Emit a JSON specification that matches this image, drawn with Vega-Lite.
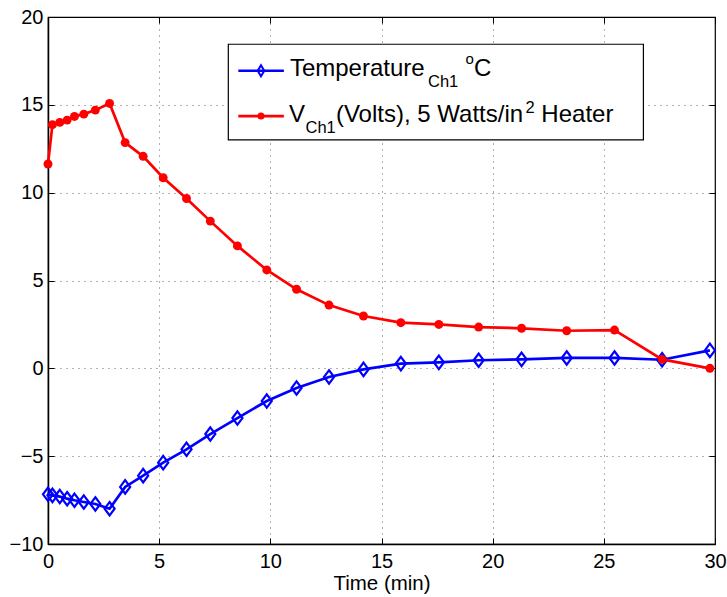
{
  "$schema": "https://vega.github.io/schema/vega-lite/v6.json",
  "width": 667,
  "height": 527,
  "autosize": {"type": "none"},
  "padding": {"left": 48, "top": 17, "right": 12, "bottom": 53},
  "background": "white",
  "config": {
    "font": "Liberation Sans",
    "view": {"stroke": "#000", "strokeWidth": 1.2},
    "axis": {
      "labelFont": "Liberation Sans", "labelFontSize": 20, "labelColor": "#000", "labelFlush": false,
      "titleFont": "Liberation Sans", "titleFontSize": 20.5, "titleFontWeight": "normal", "titleColor": "#000",
      "domainColor": "#000", "domainWidth": 1.5,
      "tickColor": "#000", "tickSize": -6, "tickWidth": 1,
      "gridColor": "#000", "gridOpacity": 0.6, "gridDash": [1, 5], "gridWidth": 1
    }
  },
  "data": {
    "values": [
      {"t": 0, "temp": -7.17, "volt": 11.63},
      {"t": 0.2, "temp": -7.23, "volt": 13.87},
      {"t": 0.53, "temp": -7.3, "volt": 14.0},
      {"t": 0.86, "temp": -7.42, "volt": 14.13},
      {"t": 1.19, "temp": -7.51, "volt": 14.34},
      {"t": 1.61, "temp": -7.61, "volt": 14.47},
      {"t": 2.13, "temp": -7.72, "volt": 14.7},
      {"t": 2.77, "temp": -7.99, "volt": 15.08},
      {"t": 3.47, "temp": -6.75, "volt": 12.85},
      {"t": 4.28, "temp": -6.11, "volt": 12.07},
      {"t": 5.18, "temp": -5.37, "volt": 10.85},
      {"t": 6.23, "temp": -4.61, "volt": 9.67},
      {"t": 7.3, "temp": -3.74, "volt": 8.38},
      {"t": 8.52, "temp": -2.83, "volt": 6.97},
      {"t": 9.84, "temp": -1.86, "volt": 5.6},
      {"t": 11.18, "temp": -1.12, "volt": 4.5},
      {"t": 12.64, "temp": -0.49, "volt": 3.6},
      {"t": 14.19, "temp": -0.06, "volt": 2.98},
      {"t": 15.87, "temp": 0.27, "volt": 2.6},
      {"t": 17.58, "temp": 0.34, "volt": 2.5},
      {"t": 19.37, "temp": 0.46, "volt": 2.35},
      {"t": 21.3, "temp": 0.51, "volt": 2.28},
      {"t": 23.33, "temp": 0.59, "volt": 2.14},
      {"t": 25.48, "temp": 0.59, "volt": 2.18},
      {"t": 27.62, "temp": 0.49, "volt": 0.51},
      {"t": 29.77, "temp": 1.02, "volt": 0.0}
    ]
  },
  "layer": [
    {
      "mark": {"type": "line", "color": "#0000FF", "strokeWidth": 2.7},
      "encoding": {
        "x": {"field": "t", "type": "quantitative", "scale": {"domain": [0, 30], "nice": false},
              "axis": {"values": [0, 5, 10, 15, 20, 25, 30], "title": "Time (min)", "labelPadding": 13, "titlePadding": 2}},
        "y": {"field": "temp", "type": "quantitative", "scale": {"domain": [-10, 20], "nice": false},
              "axis": {"values": [-10, -5, 0, 5, 10, 15, 20], "title": null, "labelPadding": 11}}
      }
    },
    {
      "mark": {"type": "point", "shape": "M0,-1L0.75,0L0,1L-0.75,0Z", "filled": false, "color": "#0000FF", "strokeWidth": 2.2, "size": 180, "opacity": 1},
      "encoding": {
        "x": {"field": "t", "type": "quantitative", "axis": null},
        "y": {"field": "temp", "type": "quantitative", "axis": null}
      }
    },
    {
      "mark": {"type": "line", "color": "#FF0000", "strokeWidth": 2.7},
      "encoding": {
        "x": {"field": "t", "type": "quantitative", "axis": null},
        "y": {"field": "volt", "type": "quantitative", "axis": null}
      }
    },
    {
      "mark": {"type": "circle", "color": "#FF0000", "size": 80, "opacity": 1},
      "encoding": {
        "x": {"field": "t", "type": "quantitative", "axis": null},
        "y": {"field": "volt", "type": "quantitative", "axis": null}
      }
    },
    {
      "data": {"values": [{}]},
      "mark": {"type": "rect", "fill": "white", "stroke": "#000", "strokeWidth": 1.2},
      "encoding": {
        "x": {"datum": 8.11, "type": "quantitative",
              "axis": {"orient": "top", "labels": false, "domain": false, "grid": false, "title": null, "values": [0, 5, 10, 15, 20, 25, 30]}},
        "x2": {"datum": 26.78},
        "y": {"datum": 18.45, "type": "quantitative",
              "axis": {"orient": "right", "labels": false, "domain": false, "grid": false, "title": null, "values": [-10, -5, 0, 5, 10, 15, 20]}},
        "y2": {"datum": 13.0}
      }
    },
    {
      "data": {"values": [{}]},
      "mark": {"type": "rule", "color": "#0000FF", "strokeWidth": 2.7},
      "encoding": {
        "x": {"datum": 8.56, "type": "quantitative", "axis": null},
        "x2": {"datum": 10.61},
        "y": {"datum": 16.94, "type": "quantitative", "axis": null}
      }
    },
    {
      "data": {"values": [{}]},
      "mark": {"type": "point", "shape": "M0,-1L0.6,0L0,1L-0.6,0Z", "filled": false, "color": "#0000FF", "strokeWidth": 2, "size": 120, "opacity": 1},
      "encoding": {
        "x": {"datum": 9.58, "type": "quantitative", "axis": null},
        "y": {"datum": 16.94, "type": "quantitative", "axis": null}
      }
    },
    {
      "data": {"values": [{}]},
      "mark": {"type": "rule", "color": "#FF0000", "strokeWidth": 2.7},
      "encoding": {
        "x": {"datum": 8.56, "type": "quantitative", "axis": null},
        "x2": {"datum": 10.61},
        "y": {"datum": 14.36, "type": "quantitative", "axis": null}
      }
    },
    {
      "data": {"values": [{}]},
      "mark": {"type": "circle", "color": "#FF0000", "size": 50, "opacity": 1},
      "encoding": {
        "x": {"datum": 9.58, "type": "quantitative", "axis": null},
        "y": {"datum": 14.36, "type": "quantitative", "axis": null}
      }
    },
    {
      "data": {"values": [{"label": "Temperature"}]},
      "mark": {"type": "text", "align": "left", "baseline": "alphabetic", "fontSize": 24, "color": "#000"},
      "encoding": {"text": {"field": "label"}, "x": {"datum": 10.88, "type": "quantitative", "axis": null}, "y": {"datum": 16.66, "type": "quantitative", "axis": null}}
    },
    {
      "data": {"values": [{"label": "Ch1"}]},
      "mark": {"type": "text", "align": "left", "baseline": "alphabetic", "fontSize": 16.5, "color": "#000"},
      "encoding": {"text": {"field": "label"}, "x": {"datum": 17.09, "type": "quantitative", "axis": null}, "y": {"datum": 16.0, "type": "quantitative", "axis": null}}
    },
    {
      "data": {"values": [{"label": "o"}]},
      "mark": {"type": "text", "align": "left", "baseline": "alphabetic", "fontSize": 15, "color": "#000"},
      "encoding": {"text": {"field": "label"}, "x": {"datum": 18.78, "type": "quantitative", "axis": null}, "y": {"datum": 17.31, "type": "quantitative", "axis": null}}
    },
    {
      "data": {"values": [{"label": "C"}]},
      "mark": {"type": "text", "align": "left", "baseline": "alphabetic", "fontSize": 24, "color": "#000"},
      "encoding": {"text": {"field": "label"}, "x": {"datum": 19.16, "type": "quantitative", "axis": null}, "y": {"datum": 16.66, "type": "quantitative", "axis": null}}
    },
    {
      "data": {"values": [{"label": "V"}]},
      "mark": {"type": "text", "align": "left", "baseline": "alphabetic", "fontSize": 24, "color": "#000"},
      "encoding": {"text": {"field": "label"}, "x": {"datum": 10.84, "type": "quantitative", "axis": null}, "y": {"datum": 14.04, "type": "quantitative", "axis": null}}
    },
    {
      "data": {"values": [{"label": "Ch1"}]},
      "mark": {"type": "text", "align": "left", "baseline": "alphabetic", "fontSize": 16.5, "color": "#000"},
      "encoding": {"text": {"field": "label"}, "x": {"datum": 11.58, "type": "quantitative", "axis": null}, "y": {"datum": 13.38, "type": "quantitative", "axis": null}}
    },
    {
      "data": {"values": [{"label": "(Volts), 5 Watts/in"}]},
      "mark": {"type": "text", "align": "left", "baseline": "alphabetic", "fontSize": 24, "color": "#000"},
      "encoding": {"text": {"field": "label"}, "x": {"datum": 12.95, "type": "quantitative", "axis": null}, "y": {"datum": 14.04, "type": "quantitative", "axis": null}}
    },
    {
      "data": {"values": [{"label": "2"}]},
      "mark": {"type": "text", "align": "left", "baseline": "alphabetic", "fontSize": 16.5, "color": "#000"},
      "encoding": {"text": {"field": "label"}, "x": {"datum": 21.48, "type": "quantitative", "axis": null}, "y": {"datum": 14.52, "type": "quantitative", "axis": null}}
    },
    {
      "data": {"values": [{"label": "Heater"}]},
      "mark": {"type": "text", "align": "left", "baseline": "alphabetic", "fontSize": 24, "color": "#000"},
      "encoding": {"text": {"field": "label"}, "x": {"datum": 22.19, "type": "quantitative", "axis": null}, "y": {"datum": 14.04, "type": "quantitative", "axis": null}}
    }
  ],
  "resolve": {"axis": {"x": "independent", "y": "independent"}}
}
